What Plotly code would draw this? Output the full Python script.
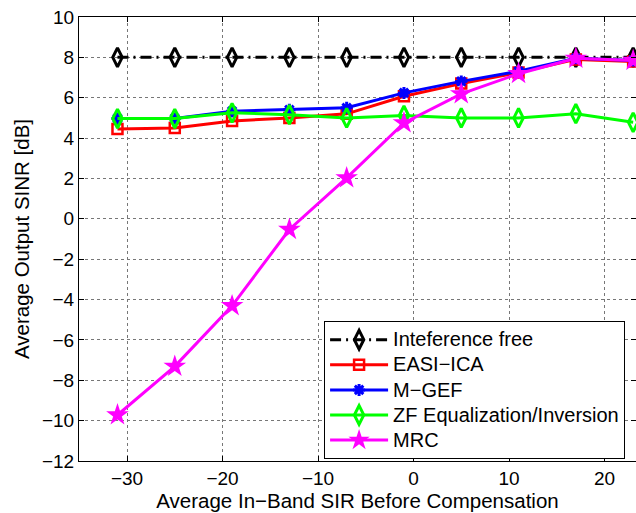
import plotly.graph_objects as go

x_vals = [-31, -25, -19, -13, -7, -1, 5, 11, 17, 23]
interf_free = [8, 8, 8, 8, 8, 8, 8, 8, 8, 8]
easi_ica = [4.45, 4.5, 4.85, 5.0, 5.2, 6.07, 6.7, 7.25, 7.9, 7.8]
m_gef = [4.97, 4.97, 5.33, 5.4, 5.5, 6.24, 6.81, 7.31, 7.95, 7.85]
zf_eq = [4.97, 4.97, 5.25, 5.16, 5.0, 5.12, 5.0, 5.0, 5.21, 4.78]
mrc = [-9.72, -7.31, -4.31, -0.53, 2.03, 4.75, 6.19, 7.19, 7.95, 7.85]

series_names = ["Inteference free", "EASI−ICA", "M−GEF", "ZF Equalization/Inversion", "MRC"]

x_ticks = [-30, -20, -10, 0, 10, 20]
y_ticks = list(range(-12, 11, 2))

FONT = "Liberation Sans, Arial, Helvetica, sans-serif"


def legend_name(s):
    return '<span style="font-size:20px">' + s + '</span>'


fig = go.Figure()
fig.add_trace(go.Scatter(
    x=x_vals, y=interf_free, name=legend_name(series_names[0]), mode="lines+markers",
    line=dict(color="black", width=3, dash="11px,5px,2px,5px"),
    marker=dict(symbol="diamond-tall-open", size=13.5, color="black", line=dict(width=3, color="black")),
))
fig.add_trace(go.Scatter(
    x=x_vals, y=easi_ica, name=legend_name(series_names[1]), mode="lines+markers",
    line=dict(color="#ff0000", width=3),
    marker=dict(symbol="square-open", size=10, color="#ff0000", line=dict(width=2.5, color="#ff0000")),
))
fig.add_trace(go.Scatter(
    x=x_vals, y=m_gef, name=legend_name(series_names[2]), mode="lines+markers",
    line=dict(color="#0000ff", width=3),
    marker=dict(symbol="asterisk-open", size=10, color="#0000ff", line=dict(width=3, color="#0000ff")),
))
fig.add_trace(go.Scatter(
    x=x_vals, y=zf_eq, name=legend_name(series_names[3]), mode="lines+markers",
    line=dict(color="#00ff00", width=3),
    marker=dict(symbol="diamond-tall-open", size=13.5, color="#00ff00", line=dict(width=3, color="#00ff00")),
))
fig.add_trace(go.Scatter(
    x=x_vals, y=mrc, name=legend_name(series_names[4]), mode="lines+markers",
    line=dict(color="#ff00ff", width=3),
    marker=dict(symbol="star", size=17, color="#ff00ff", line=dict(width=0)),
))

axis_common = dict(
    showline=True, linecolor="black", linewidth=1, mirror="ticks",
    ticks="inside", ticklen=5, tickcolor="black", tickwidth=1,
    showgrid=True, gridcolor="#777777", griddash="dot", gridwidth=1,
    zeroline=False, tickfont=dict(family=FONT, size=19, color="black"),
)

fig.update_xaxes(
    range=[-35.03, 23.3], tickvals=x_ticks,
    ticktext=[str(v).replace("-", "−") for v in x_ticks],
    title=dict(text="Average In−Band SIR Before Compensation", font=dict(family=FONT, size=20.5, color="black"), standoff=3),
    **axis_common,
)
fig.update_yaxes(
    range=[-12, 10], tickvals=y_ticks,
    ticktext=[str(v).replace("-", "−") for v in y_ticks],
    title=dict(text="Average Output SINR [dB]", font=dict(family=FONT, size=20.5, color="black"), standoff=6),
    **axis_common,
)

fig.update_layout(
    width=636, height=513,
    margin=dict(l=79, r=0, t=17, b=52),
    paper_bgcolor="white", plot_bgcolor="white",
    font=dict(family=FONT, size=17, color="black"),
    showlegend=True,
    legend=dict(
        x=0.44, y=0.315, xanchor="left", yanchor="top",
        bgcolor="white", bordercolor="black", borderwidth=1,
        font=dict(family=FONT, size=17, color="black"),
        itemwidth=58, tracegroupgap=0,
    ),
)

fig.write_html("out.html")
